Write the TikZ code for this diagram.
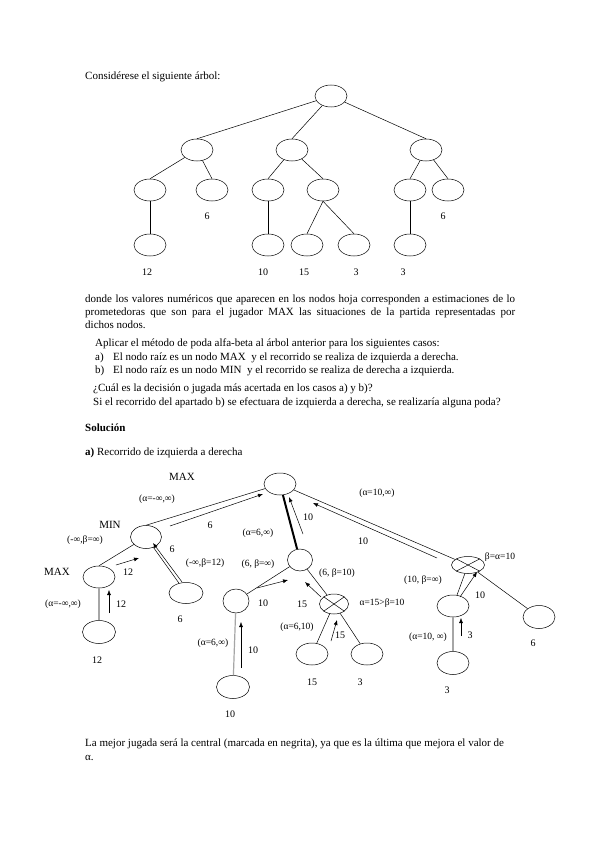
\documentclass[tikz,border=0pt]{standalone}
\usepackage{fontspec}
\setmainfont{Liberation Serif}
\usetikzlibrary{shapes.geometric,arrows.meta,calc}

\tikzset{
  nodo/.style={draw, ellipse, line width=0.5pt, minimum width=32pt, minimum height=22pt, inner sep=0pt},
  rama/.style={line width=0.5pt},
  gris/.style={gray!70, line width=1.2pt},
  flecha/.style={line width=0.5pt, -{Latex[length=5pt,width=4pt]}},
  texto/.style={anchor=base west, inner sep=0pt, font=\fontsize{11}{13}\selectfont},
  valor/.style={inner sep=0pt, font=\fontsize{10}{11}\selectfont},
  jugador/.style={inner sep=0pt, font=\fontsize{11}{12}\selectfont},
  cota/.style={inner sep=0pt, font=\fontsize{9.5}{11}\selectfont}
}

\begin{document}
\begin{tikzpicture}[x=1pt, y=-1pt]
    % Page
    \useasboundingbox (0,0) rectangle (599,848);
    \fill [white] (0,0) rectangle (599,848);

    % Statement
    \node [texto] (enun) at (85,80) {Considérese el siguiente árbol:};

    % Tree of the statement
    \node [nodo] (raiz) at (331,96) {};
    \node [nodo] (n1) at (197,150) {};
    \node [nodo] (n2) at (292,150) {};
    \node [nodo] (n3) at (426,150) {};
    \node [nodo] (n11) at (150,190) {};
    \node [nodo] (n12) at (212,190) {};
    \node [nodo] (n21) at (268,190) {};
    \node [nodo] (n22) at (323,190) {};
    \node [nodo] (n31) at (410,190) {};
    \node [nodo] (n32) at (448,190) {};
    \node [nodo] (n111) at (150,245) {};
    \node [nodo] (n211) at (268,245) {};
    \node [nodo] (n221) at (307,245) {};
    \node [nodo] (n222) at (354,245) {};
    \node [nodo] (n311) at (410,245) {};
    \draw [rama] (raiz) -- (n1.north) (raiz) -- (n2.north) (raiz) -- (n3.north);
    \draw [rama] (n1) -- (n11.north) (n1) -- (n12.north);
    \draw [rama] (n2) -- (n21.north) (n2) -- (n22.north);
    \draw [rama] (n3) -- (n31.north) (n3) -- (n32.north);
    \draw [rama] (n11) -- (n111) (n21) -- (n211) (n31) -- (n311);
    \draw [rama] (n22.south) -- (n221.north) (n22.south) -- (n222.north);

    % Leaf values
    \node [valor] (v12) at (207,216) {6};
    \node [valor] (v32) at (443,216) {6};
    \node [valor] (v111) at (147,272) {12};
    \node [valor] (v211) at (263,272) {10};
    \node [valor] (v221) at (304,272) {15};
    \node [valor] (v222) at (356,272) {3};
    \node [valor] (v311) at (403,272) {3};

    % Text
    \node [texto] (p1) at (85,302) {\makebox[430pt][s]{donde los valores numéricos que aparecen en los nodos hoja corresponden a estimaciones de lo}};
    \node [texto] (p2) at (85,315) {\makebox[430pt][s]{prometedoras que son para el jugador MAX las situaciones de la partida representadas por}};
    \node [texto] (p3) at (85,328) {dichos nodos.};
    \node [texto] (q0) at (95,346) {Aplicar el método de poda alfa-beta al árbol anterior para los siguientes casos:};
    \node [texto] (qa) at (95,360) {a)};
    \node [texto] (qat) at (113,360) {El nodo raíz es un nodo MAX\ \ y el recorrido se realiza de izquierda a derecha.};
    \node [texto] (qb) at (95,373) {b)};
    \node [texto] (qbt) at (113,373) {El nodo raíz es un nodo MIN\ \ y el recorrido se realiza de derecha a izquierda.};
    \node [texto] (q1) at (93,391) {¿Cuál es la decisión o jugada más acertada en los casos a) y b)?};
    \node [texto] (q2) at (93,405) {Si el recorrido del apartado b) se efectuara de izquierda a derecha, se realizaría alguna poda?};
    \node [texto, font=\fontsize{11}{13}\selectfont\bfseries] (sol) at (85,431) {Solución};
    \node [texto] (sola) at (85,455) {\textbf{a)} Recorrido de izquierda a derecha};

    % Solution tree
    \node [nodo] (s) at (280,484) {};
    \node [nodo, minimum width=31pt, minimum height=23pt] (s1) at (146,537) {};
    \node [nodo] (s11) at (99,577) {};
    \node [nodo, minimum width=33pt, minimum height=23pt] (s111) at (99,632) {};
    \node [nodo, minimum width=34pt, minimum height=21pt] (s12) at (186,593) {};
    \node [nodo, minimum width=25pt, minimum height=22pt] (s2) at (300,560) {};
    \node [nodo, minimum width=26pt, minimum height=24pt] (s21) at (236,601) {};
    \node [nodo, minimum width=33pt, minimum height=23pt] (s211) at (233,687) {};
    \node [nodo, minimum width=29pt, minimum height=20pt] (s22) at (334,604) {};
    \node [nodo] (s221) at (312,654) {};
    \node [nodo] (s222) at (367,654) {};
    \node [nodo, minimum width=33pt, minimum height=17pt] (s3) at (468,565) {};
    \node [nodo] (s31) at (453,606) {};
    \node [nodo, minimum width=32pt, minimum height=23pt] (s311) at (453,663) {};
    \node [nodo, minimum width=32pt, minimum height=23pt] (s32) at (539,617) {};

    % Branches
    \draw [rama] (s) -- (s1.north);
    \draw [rama] (s1) -- (s11.north) (s1) -- (s12);
    \draw [gris] (s11) -- (s111);
    \draw [line width=2pt] (s) -- (s2);
    \draw [rama] (s2) -- (s21) (s2) -- (s22) (s22) -- (s221) (s22) -- (s222);
    \draw [gris] (s21) -- (s211);
    \draw [rama] (s) -- (s3) (s3) -- (s31) (s3) -- (s32);
    \draw [gris] (s31) -- (s311);

    % Pruned nodes
    \draw [rama] (s22.north west) -- (s22.south east) (s22.north east) -- (s22.south west);
    \draw [rama] (s3.north west) -- (s3.south east) (s3.north east) -- (s3.south west);

    % Returned values
    \draw [flecha] (170,526) -- (263,494);
    \draw [flecha] (116,565) -- (139,558);
    \draw [flecha] (182,582) -- (153,543);
    \draw [flecha] (109,613) -- (109,590);
    \draw [flecha] (303,534) -- (289,497);
    \draw [flecha] (437,558) -- (313,503);
    \draw [flecha] (257,588) -- (288,580);
    \draw [flecha] (321,597) -- (305,582);
    \draw [flecha] (331,641) -- (337,620);
    \draw [flecha] (241,668) -- (241,622);
    \draw [flecha] (460,597) -- (477,572);
    \draw [flecha] (461,636) -- (461,618);

    % Labels
    \node [jugador] (lmax) at (182,477) {MAX};
    \node [jugador] (lmin) at (110,525) {MIN};
    \node [jugador] (lmax2) at (57,572) {MAX};
    \node [cota] (c1) at (157,499) {(α=-∞,∞)};
    \node [valor] (e1) at (210,525) {6};
    \node [cota] (c2) at (85,540) {(-∞,β=∞)};
    \node [valor] (e2) at (172,549) {6};
    \node [valor] (e3) at (128,572) {12};
    \node [cota] (c3) at (205,563) {(-∞,β=12)};
    \node [cota] (c4) at (63,604) {(α=-∞,∞)};
    \node [valor] (e4) at (121,604) {12};
    \node [valor] (h1) at (97,660) {12};
    \node [valor] (h2) at (180,619) {6};
    \node [cota] (c5) at (258,533) {(α=6,∞)};
    \node [valor] (e5) at (308,517) {10};
    \node [cota] (c6) at (258,564) {(6, β=∞)};
    \node [valor] (e6) at (263,603) {10};
    \node [valor] (e7) at (302,604) {15};
    \node [cota] (c7) at (337,573) {(6, β=10)};
    \node [cota] (c8) at (382,603) {α=15>β=10};
    \node [cota] (c9) at (297,627) {(α=6,10)};
    \node [valor] (e8) at (340,635) {15};
    \node [cota] (c10) at (213,643) {(α=6,∞)};
    \node [valor] (e9) at (253,650) {10};
    \node [valor] (h3) at (230,714) {10};
    \node [valor] (h4) at (312,682) {15};
    \node [valor] (h5) at (360,682) {3};
    \node [cota] (c11) at (377,493) {(α=10,∞)};
    \node [valor] (e10) at (363,541) {10};
    \node [cota] (c12) at (500,557) {β=α=10};
    \node [cota] (c13) at (423,580) {(10, β=∞)};
    \node [valor] (e11) at (480,595) {10};
    \node [cota] (c14) at (428,637) {(α=10, ∞)};
    \node [valor] (e12) at (470,635) {3};
    \node [valor] (h6) at (447,690) {3};
    \node [valor] (h7) at (533,643) {6};

    % Conclusion
    \node [texto] (fin1) at (85,746) {La mejor jugada será la central (marcada en negrita), ya que es la última que mejora el valor de};
    \node [texto] (fin2) at (85,760) {α.};
\end{tikzpicture}
\end{document}
